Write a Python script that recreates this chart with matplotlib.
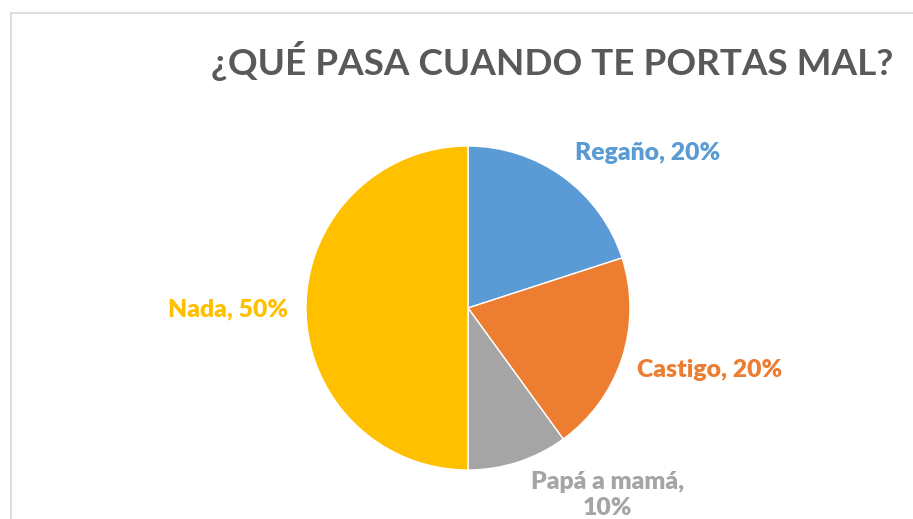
import matplotlib
matplotlib.use("Agg")
from matplotlib import pyplot as plt
from matplotlib.lines import Line2D

# Data
labels = ["Regaño", "Castigo", "Papá a mamá", "Nada"]
values = [20, 20, 10, 50]
colors = ["#5B9BD5", "#ED7D31", "#A5A5A5", "#FFC000"]
label_text = ["Regaño, 20%", "Castigo, 20%", "Papá a mamá,\n10%", "Nada, 50%"]
label_pos = [(1.11, 0.957), (1.49, -0.383), (0.86, -1.155), (-1.48, -0.01)]

W, H = 913, 519
fig = plt.figure(figsize=(W / 100, H / 100), dpi=100)
fig.patch.set_facecolor("white")

# chart border (cropped)
fig.add_artist(Line2D([10.5 / W, 10.5 / W], [0, (H - 12.5) / H], color="#D9D9D9", lw=1.2))
fig.add_artist(Line2D([10.5 / W, 1], [(H - 12.5) / H, (H - 12.5) / H], color="#D9D9D9", lw=1.2))

cx, cy, r = 468, H - 308, 162
ax = fig.add_axes([(cx - r) / W, (cy - r) / H, 2 * r / W, 2 * r / H])
ax.pie(values, colors=colors, startangle=90, counterclock=False, radius=1,
       wedgeprops=dict(edgecolor="white", linewidth=1))
ax.set_xlim(-1, 1)
ax.set_ylim(-1, 1)
ax.set_aspect("equal")
ax.axis("off")

for txt, (x, y), c in zip(label_text, label_pos, colors):
    ax.text(x, y, txt, color=c, fontsize=17.8, fontweight="heavy", family="Lato",
            ha="center", va="center", linespacing=1.25, clip_on=False)

fig.text(552 / W, 1 - 61 / H, "¿QUÉ PASA CUANDO TE PORTAS MAL?", fontsize=26.6,
         fontweight="bold", family="Lato", color="#595959", ha="center", va="center")

fig.savefig("out.png", dpi=100)
